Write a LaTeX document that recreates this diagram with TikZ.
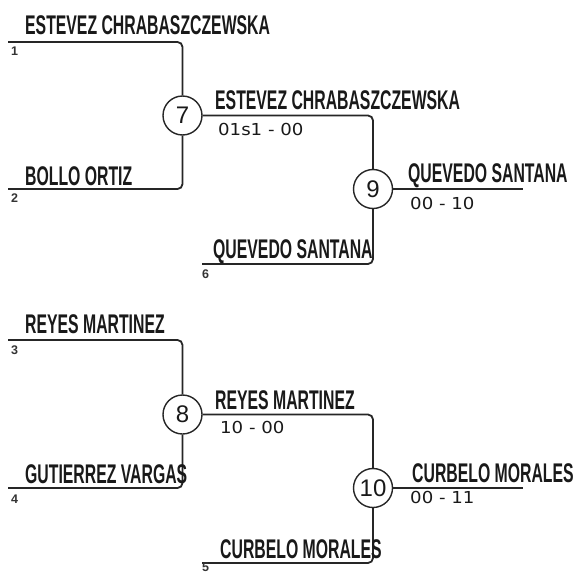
\documentclass[tikz,border=0pt]{standalone}
\usepackage{fontspec}
\setmainfont{Liberation Sans}
\newfontfamily\namefont[FakeStretch=0.585]{Liberation Sans}
\newfontfamily\scorefont[FakeStretch=1.1]{DejaVu Sans}
\begin{document}
\begin{tikzpicture}[x=1pt,y=-1pt,
  wire/.style={line width=1.8pt, draw=black!85, rounded corners=5pt},
  match/.style={circle, draw=black!85, line width=1.4pt, minimum size=39pt, inner sep=0pt, text=black!90, font=\fontsize{24}{24}\selectfont},
  pname/.style={anchor=base west, inner sep=0pt, text=black!90, font=\namefont\bfseries\fontsize{27}{27}\selectfont},
  score/.style={anchor=base west, inner sep=0pt, text=black!90, font=\scorefont\fontsize{16.5}{16.5}\selectfont},
  seed/.style={anchor=base west, inner sep=0pt, text=black!80, font=\bfseries\fontsize{12.5}{12.5}\selectfont}]
\useasboundingbox (0,0) rectangle (575,573);
\clip (0,0) rectangle (575,573);
% top bracket
\coordinate (s1) at (8,42);
\coordinate (s2) at (8,189);
\coordinate (s6) at (202,264);
\coordinate (e9) at (523,189);
\node[match] (m7) at (182.5,115.5) {7};
\node[match] (m9) at (373,189) {9};
\draw[wire] (s1) -| (m7.north);
\draw[wire] (s2) -| (m7.south);
\draw[wire] (m7.east) -| (m9.north);
\draw[wire] (s6) -| (m9.south);
\draw[wire] (m9.east) -- (e9);
\node[pname] (n1) at (25,34) {ESTEVEZ CHRABASZCZEWSKA};
\node[pname] (n2) at (25,185) {BOLLO ORTIZ};
\node[pname] (n7) at (215,109) {ESTEVEZ CHRABASZCZEWSKA};
\node[pname] (n6) at (213,258) {QUEVEDO SANTANA};
\node[pname] (n9) at (408,182) {QUEVEDO SANTANA};
\node[score] (r7) at (218,135) {01s1 - 00};
\node[score] (r9) at (410,209) {00 - 10};
\node[seed] (d1) at (11,55) {1};
\node[seed] (d2) at (11,202) {2};
\node[seed] (d6) at (202,278) {6};
% bottom bracket
\coordinate (s3) at (8,340);
\coordinate (s4) at (8,488);
\coordinate (s5) at (202,563);
\coordinate (e10) at (523,488);
\node[match] (m8) at (182.5,414.5) {8};
\node[match] (m10) at (373,488) {10};
\draw[wire] (s3) -| (m8.north);
\draw[wire] (s4) -| (m8.south);
\draw[wire] (m8.east) -| (m10.north);
\draw[wire] (s5) -| (m10.south);
\draw[wire] (m10.east) -- (e10);
\node[pname] (n3) at (25,333) {REYES MARTINEZ};
\node[pname] (n4) at (25,483) {GUTIERREZ VARGAS};
\node[pname] (n8) at (215,409) {REYES MARTINEZ};
\node[pname] (n5) at (220,558) {CURBELO MORALES};
\node[pname] (n10) at (412,482) {CURBELO MORALES};
\node[score] (r8) at (220,433) {10 - 00};
\node[score] (r10) at (410,503) {00 - 11};
\node[seed] (d3) at (11,354) {3};
\node[seed] (d4) at (11,503) {4};
\node[seed] (d5) at (202,571.5) {5};
\end{tikzpicture}
\end{document}
